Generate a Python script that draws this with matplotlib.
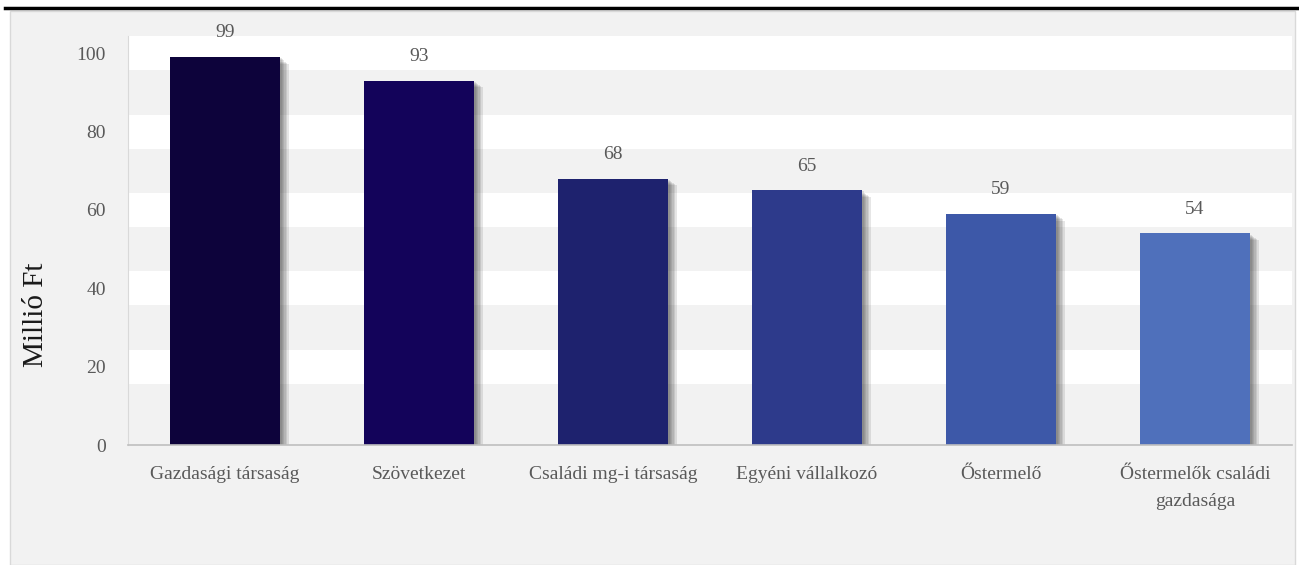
import numpy as np
from matplotlib import pyplot as plt
from matplotlib import patheffects as pe
from matplotlib.patches import Rectangle

categories = ["Gazdasági társaság", "Szövetkezet", "Családi mg-i társaság",
              "Egyéni vállalkozó", "Őstermelő", "Őstermelők családi\ngazdasága"]
values = [99, 93, 68, 65, 59, 54]
yticks = [0, 20, 40, 60, 80, 100]
colors = ["#0d033b", "#13035a", "#1e226e", "#2d3a8b", "#3d58a8", "#4f70bb"]

W, H = 1299, 565
plt.rcParams['font.family'] = ['Liberation Serif', 'DejaVu Serif']
fig = plt.figure(figsize=(W / 100, H / 100), dpi=100)
fig.patch.set_facecolor("white")

# gray panel behind chart
panel = Rectangle((10 / W, 0), 1285 / W, (H - 11) / H, transform=fig.transFigure,
                  facecolor="#f2f2f2", edgecolor="#d9d9d9", lw=1, zorder=-5)
fig.patches.append(panel)
# black rule at the top
fig.add_artist(plt.Line2D([5 / W, 1.0], [1 - 8 / H, 1 - 8 / H], color="black", lw=2.5,
                          transform=fig.transFigure))

ax = fig.add_axes([128 / W, 120 / H, 1164 / W, 409 / H])
ax.set_facecolor("none")
x = np.arange(len(categories))

# thick white gridlines
for v in yticks[1:]:
    ax.axhspan(v - 4.35, v + 4.35, color="white", lw=0, zorder=0)

bars = ax.bar(x, values, width=0.57, color=colors, zorder=3)
# soft shadow: a few offset copies with low alpha
shadow = [pe.SimplePatchShadow(offset=(d, -0.8 * d), shadow_rgbFace="#404040", alpha=0.13)
          for d in (1, 2, 3, 4, 5, 6)]
for b in bars:
    b.set_path_effects(shadow + [pe.Normal()])

for xi, v in zip(x, values):
    ax.text(xi, v + 4.0, str(v), ha="center", va="bottom", fontsize=14, color="#595959")

ax.set_xlim(-0.5, len(categories) - 0.5)
ax.set_ylim(0, 104.4)
ax.set_yticks(yticks)
ax.set_xticks(x)
ax.set_xticklabels(categories, fontsize=14, color="#595959", linespacing=1.8)
ax.tick_params(axis="y", length=0, pad=16, labelsize=14, labelcolor="#595959")
ax.tick_params(axis="x", length=0, pad=15)
for s in ["top", "right"]:
    ax.spines[s].set_visible(False)
ax.spines["left"].set_color("#d9d9d9")
ax.spines["bottom"].set_color("#bfbfbf")
ax.spines["bottom"].set_linewidth(1.2)
ax.spines["bottom"].set_zorder(4)

fig.text(36 / W, 1 - 315 / H, "Millió Ft", rotation=90, ha="center", va="center",
         fontsize=21, color="#1a1a1a")

plt.savefig("out.png", dpi=100)
